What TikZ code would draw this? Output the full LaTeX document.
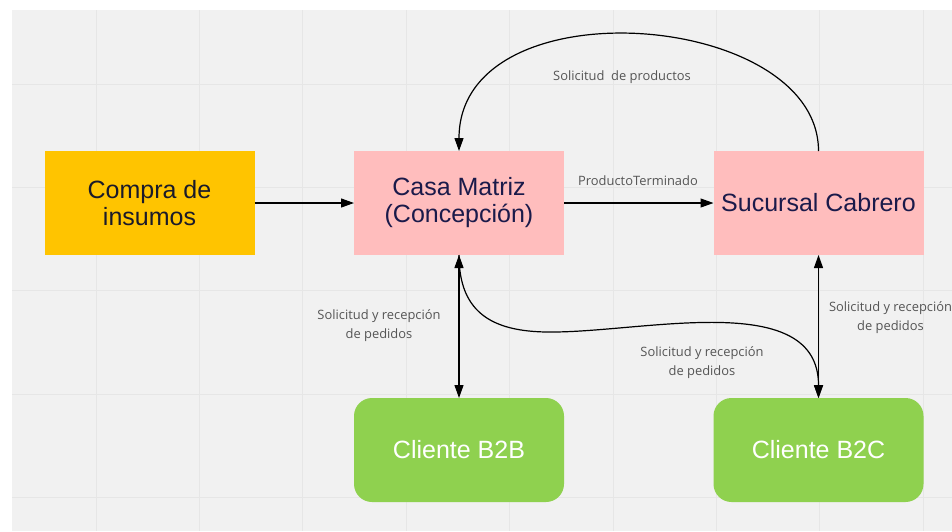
\documentclass[tikz,border=0pt]{standalone}
\usepackage{fontspec}
\setmainfont{Liberation Sans}
\newfontfamily\labelfont{Open Sans}
\usetikzlibrary{arrows.meta}

\definecolor{canvas}{HTML}{F1F1F1}
\definecolor{gridline}{HTML}{E6E6E6}
\definecolor{amber}{HTML}{FFC400}
\definecolor{rose}{HTML}{FFBDBD}
\definecolor{leaf}{HTML}{8FD14F}
\definecolor{navy}{HTML}{1A1A4A}
\definecolor{ink}{HTML}{1A1A2A}
\definecolor{labelgray}{HTML}{555555}

\tikzset{
  box/.style={rectangle, minimum width=210pt, minimum height=104pt,
    inner sep=0pt, outer sep=0pt, align=center,
    font=\fontsize{25}{27}\selectfont},
  inputbox/.style={box, fill=amber, text=ink},
  sitebox/.style={box, fill=rose, text=navy},
  clientbox/.style={box, fill=leaf, text=white, rounded corners=18pt},
  conn/.style={line width=1.2pt, draw=black,
    arrows={-Triangle[length=13pt,width=9pt]}},
  biconn/.style={conn,
    arrows={Triangle[length=13pt,width=9pt]-Triangle[length=13pt,width=9pt]}},
  lbl/.style={font=\labelfont\fontsize{12.9}{19}\selectfont,
    text=labelgray, align=center, inner sep=0pt},
}

\begin{document}
\begin{tikzpicture}[x=1pt, y=-1pt]
  % page and board
  \fill[white] (0,0) rectangle (952,531);
  \useasboundingbox (0,0) rectangle (952,531);
  \fill[canvas] (12,10) rectangle (952,531);
  \foreach \gx in {96,199.4,302.8,406.2,509.6,613,716.4,819.8,923.2}
    \draw[gridline, line width=1pt] (\gx,10) -- (\gx,531);
  \foreach \gy in {84,187.4,290.8,394.2,497.6}
    \draw[gridline, line width=1pt] (12,\gy) -- (952,\gy);

  % blocks
  \node[inputbox] (compra) at (149.5,203) {Compra de\\insumos};
  \node[sitebox] (casa) at (459,203) {Casa Matriz\\(Concepción)};
  \node[sitebox] (sucursal) at (818.5,203) {Sucursal Cabrero};
  \node[clientbox] (b2b) at (459,450) {Cliente B2B};
  \node[clientbox] (b2c) at (818.5,450) {Cliente B2C};

  % connectors
  \draw[conn] (compra.east) -- (casa.west);
  \draw[conn] (casa.east) -- (sucursal.west);
  \draw[conn] (sucursal.north) .. controls (818.5,10) and (459,-17) .. (casa.north);
  \draw[biconn] (casa.south) -- (b2b.north);
  \draw[biconn] (sucursal.south) -- (b2c.north);
  \draw[conn] (casa.south) .. controls (459,315) and (495,333) .. (555,332)
    .. controls (650,331) and (818.5,290) .. (b2c.north);

  % connector labels
  \node[lbl] (lprod) at (622,77) {Solicitud~~de productos};
  \node[lbl] (lterm) at (638,180.5) {ProductoTerminado};
  \node[lbl] (lb2b) at (379,325.5) {Solicitud y recepción\\de pedidos};
  \node[lbl] (lmid) at (702,362.5) {Solicitud y recepción\\de pedidos};
  \node[lbl] (lb2c) at (890.5,317.5) {Solicitud y recepción\\de pedidos};
\end{tikzpicture}
\end{document}
